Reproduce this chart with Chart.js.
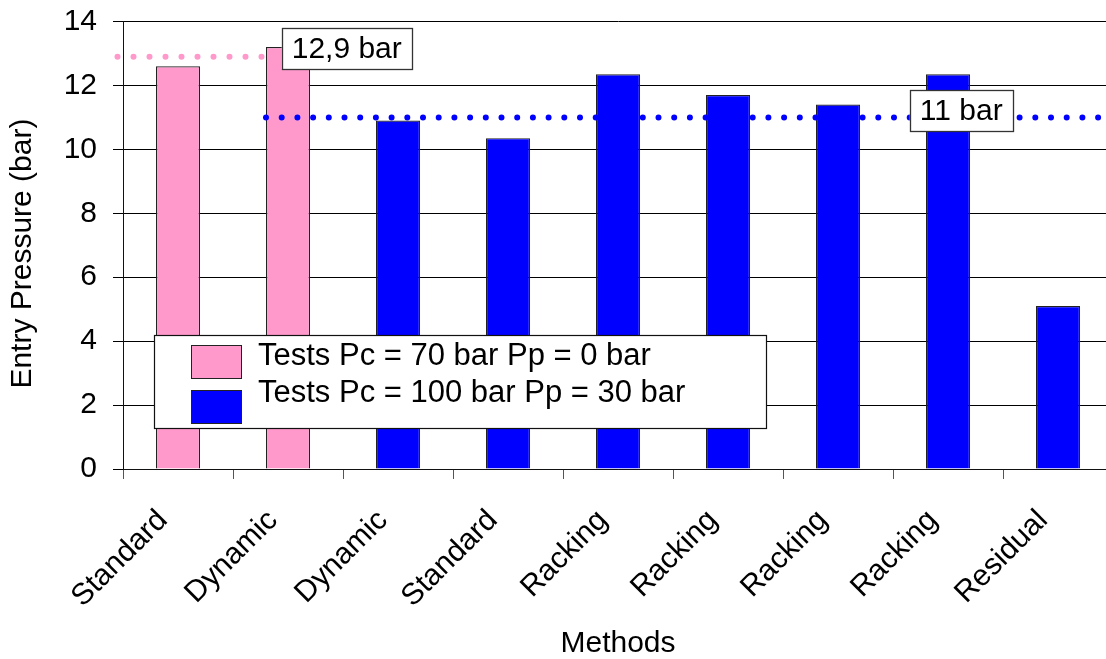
<!DOCTYPE html>
<html>
<head>
<meta charset="utf-8">
<script src="https://cdn.jsdelivr.net/npm/chart.js@4.4.1/dist/chart.umd.min.js"></script>
<style>
  html, body { margin: 0; padding: 0; background: #ffffff; overflow: hidden; }
  #wrap { width: 1120px; height: 659px; }
</style>
</head>
<body>
<div id="wrap"><canvas id="chart" width="1120" height="659"></canvas></div>
<script>
// Entry pressure measured with each method
const categories = ['Standard', 'Dynamic', 'Dynamic', 'Standard', 'Racking', 'Racking', 'Racking', 'Racking', 'Residual'];
const seriesNames = ['Tests Pc = 70 bar Pp = 0 bar', 'Tests Pc = 100 bar Pp = 30 bar'];
const lowPcValues = [12.6, 13.2, null, null, null, null, null, null, null];
const highPcValues = [null, null, 10.9, 10.35, 12.35, 11.7, 11.4, 12.35, 5.1];

// Mean entry pressure of each test series (dotted reference levels)
const lowPcMean = 12.9;
const highPcMean = 11;
const lowPcMeanSpan = [-0.55, 0.77];   // in category units
const highPcMeanSpan = [0.8, 8.5];
const meanLabels = ['12,9 bar', '11 bar'];

const yTicks = [0, 2, 4, 6, 8, 10, 12, 14];

const PINK = '#ff99cc';
const BLUE = '#0000ff';
const FONT = '"Liberation Sans", Arial, sans-serif';

const levelLine = (span, level) => span.map(x => ({ x: x, y: level }));

// Boxed legend drawn over the plot
const boxLegend = {
  id: 'boxLegend',
  afterDraw(chart) {
    const { ctx, chartArea: a } = chart;
    const x0 = a.left + 31, y0 = a.top + 313.5, w = 612, h = 93;
    ctx.save();
    ctx.fillStyle = '#ffffff';
    ctx.fillRect(x0, y0, w, h);
    ctx.strokeStyle = '#111';
    ctx.lineWidth = 1.2;
    ctx.strokeRect(x0 + 0.5, y0 + 0.5, w, h);
    const bars = chart.data.datasets.filter(d => d.type === 'bar');
    bars.forEach((d, i) => {
      const sy = y0 + 10 + i * 45;
      ctx.fillStyle = d.backgroundColor;
      ctx.fillRect(x0 + 37, sy, 50, 33);
      ctx.strokeStyle = '#222';
      ctx.lineWidth = 1;
      ctx.strokeRect(x0 + 37.5, sy + 0.5, 50, 33);
      ctx.fillStyle = '#000';
      ctx.font = '31px ' + FONT;
      ctx.textBaseline = 'alphabetic';
      ctx.textAlign = 'left';
      ctx.fillText(d.label, x0 + 104, y0 + 30 + i * 36.7);
    });
    ctx.restore();
  }
};

// Value boxes naming the two reference levels
const levelTags = {
  id: 'levelTags',
  afterDraw(chart) {
    const { ctx } = chart;
    const xs = chart.scales.xl, ys = chart.scales.y;
    const tags = [
      { text: meanLabels[0], left: xs.getPixelForValue(lowPcMeanSpan[1]) + 19, cy: ys.getPixelForValue(lowPcMean) - 8 },
      { text: meanLabels[1], cx: xs.getPixelForValue(7.12), cy: ys.getPixelForValue(highPcMean) - 6.5 }
    ];
    ctx.save();
    ctx.font = '30px ' + FONT;
    tags.forEach(t => {
      const tw = ctx.measureText(t.text).width;
      const bw = tw + 20, bh = 41;
      const left = t.left !== undefined ? t.left : t.cx - bw / 2;
      const top = t.cy - bh / 2;
      ctx.fillStyle = '#ffffff';
      ctx.fillRect(left, top, bw, bh);
      ctx.strokeStyle = '#333';
      ctx.lineWidth = 1.3;
      ctx.strokeRect(Math.round(left) + 0.5, Math.round(top) + 0.5, Math.round(bw), bh);
      ctx.fillStyle = '#000';
      ctx.textAlign = 'center';
      ctx.textBaseline = 'middle';
      ctx.fillText(t.text, left + bw / 2, top + bh / 2 + 1);
    });
    ctx.restore();
  }
};

new Chart(document.getElementById('chart'), {
  data: {
    labels: categories,
    datasets: [
      {
        type: 'line', label: 'low-mean', xAxisID: 'xl',
        data: levelLine(lowPcMeanSpan, lowPcMean),
        borderColor: PINK, borderWidth: 6, borderDash: [0, 16], borderCapStyle: 'round',
        pointRadius: 0, clip: false, order: 0
      },
      {
        type: 'line', label: 'high-mean', xAxisID: 'xl',
        data: levelLine(highPcMeanSpan, highPcMean),
        borderColor: BLUE, borderWidth: 6, borderDash: [0, 15.7], borderCapStyle: 'round',
        pointRadius: 0, clip: false, order: 0
      },
      {
        type: 'bar', label: seriesNames[0], data: lowPcValues,
        backgroundColor: PINK, borderColor: '#222', borderWidth: 1.2,
        barPercentage: 0.4, categoryPercentage: 1, grouped: false, order: 1
      },
      {
        type: 'bar', label: seriesNames[1], data: highPcValues,
        backgroundColor: BLUE, borderColor: '#222', borderWidth: 1.2,
        barPercentage: 0.4, categoryPercentage: 1, grouped: false, order: 1
      }
    ]
  },
  options: {
    responsive: false,
    animation: false,
    devicePixelRatio: 1,
    layout: { padding: { top: 21.5, right: 7, bottom: 0, left: 0 } },
    plugins: { legend: { display: false }, tooltip: { enabled: false } },
    scales: {
      x: {
        type: 'category',
        offset: true,
        afterFit: s => { s.height = 190; },
        grid: { offset: true, drawOnChartArea: false, drawTicks: true, tickLength: 10, color: '#555' },
        border: { color: '#111', width: 1 },
        ticks: {
          color: '#000', font: { family: FONT, size: 30 },
          minRotation: 45, maxRotation: 45, padding: 24, labelOffset: -15, autoSkip: false
        },
        title: {
          display: true, text: 'Methods', color: '#000',
          font: { family: FONT, size: 30, lineHeight: 1 }, padding: { top: 0, bottom: 0 }
        }
      },
      xl: {
        type: 'linear', display: false, min: -0.5, max: 8.5
      },
      y: {
        min: 0, max: 14,
        afterFit: s => { s.width = 123; s.paddingTop = 0; s.paddingBottom = 0; },
        afterBuildTicks: s => { s.ticks = yTicks.map(v => ({ value: v })); },
        grid: { color: '#000', lineWidth: 1, tickLength: 10 },
        border: { color: '#111', width: 1 },
        ticks: { color: '#000', font: { family: FONT, size: 30 }, padding: 16 },
        title: {
          display: true, text: 'Entry Pressure (bar)  ', color: '#000',
          font: { family: FONT, size: 30, lineHeight: 1 }, padding: { top: 8, bottom: 0 }
        }
      }
    }
  },
  plugins: [boxLegend, levelTags]
});
</script>
</body>
</html>
